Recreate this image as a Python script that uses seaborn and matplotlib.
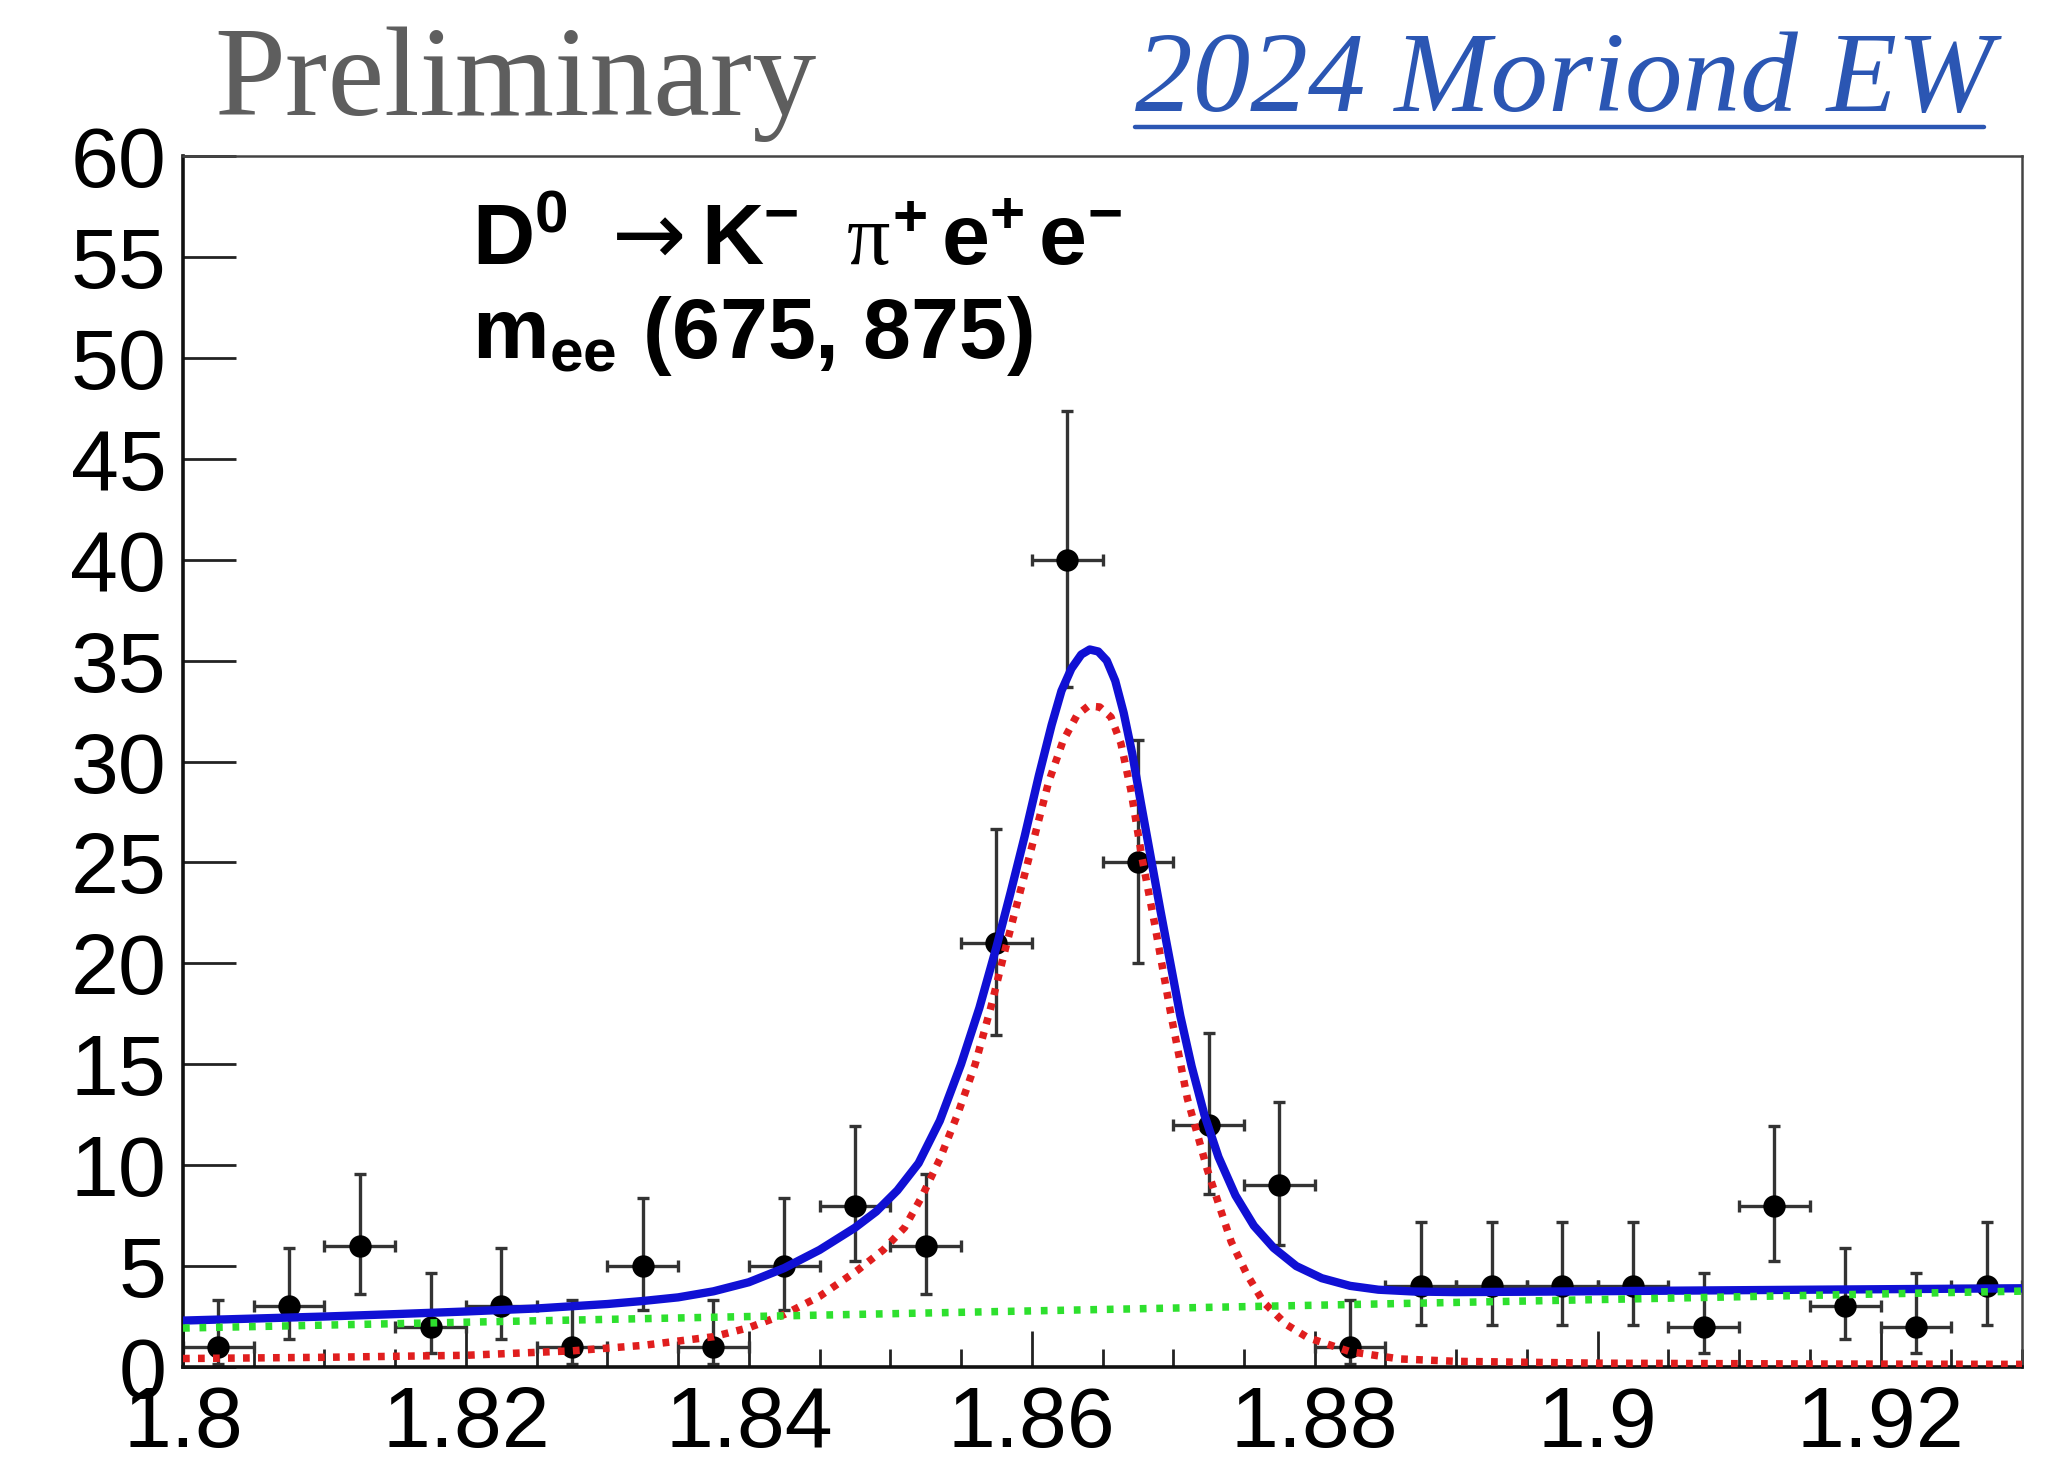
import matplotlib
matplotlib.use("Agg")
import matplotlib.pyplot as plt
import seaborn as sns
import pandas as pd
from matplotlib.ticker import FixedLocator, MultipleLocator
from matplotlib.lines import Line2D

# ---------------- data ----------------
bin_centers = [1.8025, 1.8075, 1.8125, 1.8175, 1.8225, 1.8275, 1.8325, 1.8375,
               1.8425, 1.8475, 1.8525, 1.8575, 1.8625, 1.8675, 1.8725, 1.8775,
               1.8825, 1.8875, 1.8925, 1.8975, 1.9025, 1.9075, 1.9125, 1.9175,
               1.9225, 1.9275]
counts = [1, 3, 6, 2, 3, 1, 5, 1, 5, 8, 6, 21, 40, 25, 12, 9, 1, 4, 4, 4, 4, 2, 8, 3, 2, 4]
err_low = [0.83, 1.63, 2.38, 1.29, 1.63, 0.83, 2.16, 0.83, 2.16, 2.77, 2.38, 4.54, 6.29,
           4.96, 3.41, 2.94, 0.83, 1.91, 1.91, 1.91, 1.91, 1.29, 2.77, 1.63, 1.29, 1.91]
err_high = [2.30, 2.92, 3.58, 2.64, 2.92, 2.30, 3.38, 2.30, 3.38, 3.94, 3.58, 5.65, 7.37,
            6.06, 4.54, 4.11, 2.30, 3.16, 3.16, 3.16, 3.16, 2.64, 3.94, 2.92, 2.64, 3.16]
bin_half_width = [0.0025] * len(bin_centers)

# total fit (blue)
total_x = [1.800, 1.805, 1.810, 1.815, 1.820, 1.825, 1.830, 1.8325, 1.835, 1.8375,
           1.840, 1.8425, 1.845, 1.8475, 1.849, 1.8505, 1.852, 1.8535, 1.855,
           1.8563, 1.8575, 1.8585, 1.8595, 1.8605, 1.8614, 1.8621, 1.8628, 1.8635,
           1.8641, 1.8647, 1.8653, 1.8659, 1.8665, 1.8671, 1.8677, 1.8684, 1.8691,
           1.8698, 1.8705, 1.8713, 1.8722, 1.8732, 1.8744, 1.8757, 1.8771, 1.8787,
           1.8805, 1.8825, 1.8845, 1.887, 1.890, 1.895, 1.905, 1.915, 1.930]
total_y = [2.30, 2.40, 2.50, 2.62, 2.75, 2.90, 3.12, 3.27, 3.45, 3.75,
           4.20, 4.90, 5.80, 6.90, 7.70, 8.75, 10.10, 12.20, 15.00,
           17.80, 20.80, 23.50, 26.30, 29.30, 31.80, 33.50, 34.60, 35.30,
           35.55, 35.45, 35.00, 34.00, 32.40, 30.40, 28.00, 25.30, 22.60,
           20.00, 17.40, 14.90, 12.50, 10.40, 8.50, 7.00, 5.90, 5.00,
           4.40, 4.02, 3.83, 3.74, 3.71, 3.73, 3.78, 3.83, 3.90]

# signal component (red dotted)
signal_x = [1.800, 1.810, 1.820, 1.8275, 1.8325, 1.8375, 1.840, 1.8425, 1.845,
            1.8477, 1.8495, 1.8510, 1.8522, 1.8535, 1.8548, 1.8560, 1.8571, 1.8582,
            1.8592, 1.8602, 1.8612, 1.8622, 1.8632, 1.8640, 1.8648, 1.8656, 1.8663,
            1.8670, 1.8678, 1.8687, 1.8698, 1.8710, 1.8724, 1.8741, 1.8752, 1.8764,
            1.8780, 1.8795, 1.8825, 1.886, 1.890, 1.900, 1.915, 1.930]
signal_y = [0.42, 0.48, 0.58, 0.80, 1.07, 1.50, 1.95, 2.60, 3.50,
            4.80, 5.80, 6.90, 8.40, 10.30, 12.60, 15.00, 17.80, 20.90,
            23.60, 26.30, 29.00, 31.00, 32.30, 32.75, 32.70, 32.20, 30.90,
            28.60, 25.20, 21.90, 17.60, 13.30, 9.80, 6.20, 4.60, 3.20,
            2.10, 1.46, 0.76, 0.40, 0.28, 0.19, 0.15, 0.13]

# background component (green dotted)
bkg_x = [1.80, 1.82, 1.84, 1.86, 1.88, 1.90, 1.915, 1.93]
bkg_y = [1.93, 2.22, 2.50, 2.78, 3.06, 3.34, 3.55, 3.76]

x_ticks = [1.80, 1.82, 1.84, 1.86, 1.88, 1.90, 1.92]
x_tick_labels = ["1.8", "1.82", "1.84", "1.86", "1.88", "1.9", "1.92"]
y_ticks = [0, 5, 10, 15, 20, 25, 30, 35, 40, 45, 50, 55, 60]
y_tick_labels = [str(v) for v in y_ticks]

# ---------------- style ----------------
sns.set_theme(style="white")
plt.rcParams["font.family"] = ["Liberation Sans", "DejaVu Sans"]
plt.rcParams["mathtext.fontset"] = "custom"
plt.rcParams["mathtext.rm"] = "Liberation Sans:bold"
plt.rcParams["mathtext.bf"] = "Liberation Sans:bold"
plt.rcParams["mathtext.it"] = "Liberation Serif"

W, H = 2056, 1465
fig = plt.figure(figsize=(W / 100, H / 100), dpi=100)
fig.patch.set_facecolor("white")
ax_l, ax_r, ax_t, ax_b = 183, 2022, 156, 1367
ax = fig.add_axes([ax_l / W, 1 - ax_b / H, (ax_r - ax_l) / W, (ax_b - ax_t) / H])
ax.set_facecolor("white")

data_df = pd.DataFrame({"x": bin_centers, "y": counts})
total_df = pd.DataFrame({"x": total_x, "y": total_y})
sig_df = pd.DataFrame({"x": signal_x, "y": signal_y})
bkg_df = pd.DataFrame({"x": bkg_x, "y": bkg_y})

# data points with asymmetric Poisson errors
ax.errorbar(bin_centers, counts, yerr=[err_low, err_high], xerr=bin_half_width,
            fmt="none", ecolor="#333333", elinewidth=2.4, capsize=4.5, capthick=2.4,
            zorder=2)
sns.scatterplot(data=data_df, x="x", y="y", ax=ax, color="black", s=260,
                edgecolor="black", linewidth=0, zorder=3, legend=False)

# fit curves
sns.lineplot(data=total_df, x="x", y="y", ax=ax, color="#1010d4", linewidth=6.0,
             estimator=None, sort=False, zorder=4, legend=False,
             solid_joinstyle="round", solid_capstyle="round")
sns.lineplot(data=sig_df, x="x", y="y", ax=ax, color="#e01e1e", linewidth=5.4,
             estimator=None, sort=False, zorder=5, legend=False,
             linestyle=(0, (0.9, 1.1)))
sns.lineplot(data=bkg_df, x="x", y="y", ax=ax, color="#2ee02e", linewidth=5.4,
             estimator=None, sort=False, zorder=6, legend=False,
             linestyle=(0, (0.9, 1.3)))

# axes
ax.set_xlim(1.80, 1.93)
ax.set_ylim(0, 60)
ax.set_xlabel("")
ax.set_ylabel("")
ax.xaxis.set_major_locator(FixedLocator(x_ticks))
ax.set_xticklabels(x_tick_labels)
ax.xaxis.set_minor_locator(MultipleLocator(0.005))
ax.yaxis.set_major_locator(FixedLocator(y_ticks))
ax.set_yticklabels(y_tick_labels)
ax.tick_params(axis="x", which="major", direction="in", length=26, width=2.0,
               color="#222222", labelsize=62, pad=13, top=False, bottom=True)
ax.tick_params(axis="x", which="minor", direction="in", length=13, width=2.0,
               color="#222222", top=False, bottom=True)
ax.tick_params(axis="y", which="major", direction="in", length=38, width=2.0,
               color="#222222", labelsize=62, pad=12, left=True, right=False)
for lab in ax.get_xticklabels() + ax.get_yticklabels():
    lab.set_color("black")
for side in ["left", "bottom"]:
    ax.spines[side].set_linewidth(2.6)
    ax.spines[side].set_color("#111111")
for side in ["top", "right"]:
    ax.spines[side].set_linewidth(1.8)
    ax.spines[side].set_color("#444444")
    ax.spines[side].set_visible(True)

# in-plot labels
def ax_frac(px, py):
    return (px - ax_l) / (ax_r - ax_l), (ax_b - py) / (ax_b - ax_t)

x0, y1 = ax_frac(472, 265)
_, y2 = ax_frac(472, 358)
xa, _ = ax_frac(612, 265)
xk, _ = ax_frac(701, 265)
ax.text(x0, y1, r"$\mathrm{D^{0}}$", transform=ax.transAxes, fontsize=62,
        color="black", va="baseline", ha="left")
ax.text(xa, y1, "\u2192", transform=ax.transAxes, fontsize=64, color="black",
        va="baseline", ha="left", family=["DejaVu Sans"])
ax.text(xk, y1, r"$\mathrm{K^{-}}\ \ \pi^{+}\,\mathrm{e^{+}\,e^{-}}$",
        transform=ax.transAxes, fontsize=62, color="black", va="baseline", ha="left")
ax.text(x0, y2, r"$\mathrm{m_{ee}}$ (675, 875)", transform=ax.transAxes,
        fontsize=62, fontweight="bold", color="black", va="baseline", ha="left",
        family=["Liberation Sans", "DejaVu Sans"])

# header texts
fig.text(214 / W, 1 - 115 / H, "Preliminary", fontsize=92, color="#5e5e5e",
         family=["Liberation Serif", "DejaVu Serif"], ha="left", va="baseline")
fig.text(1135 / W, 1 - 111 / H, "2024 Moriond EW", fontsize=83, color="#2b56b3",
         family=["Liberation Serif", "DejaVu Serif"], style="italic",
         ha="left", va="baseline")
fig.add_artist(Line2D([1135 / W, 1984 / W], [1 - 127 / H, 1 - 127 / H],
                      transform=fig.transFigure, color="#2b56b3", linewidth=3.2))

fig.savefig("out.png", dpi=100)
